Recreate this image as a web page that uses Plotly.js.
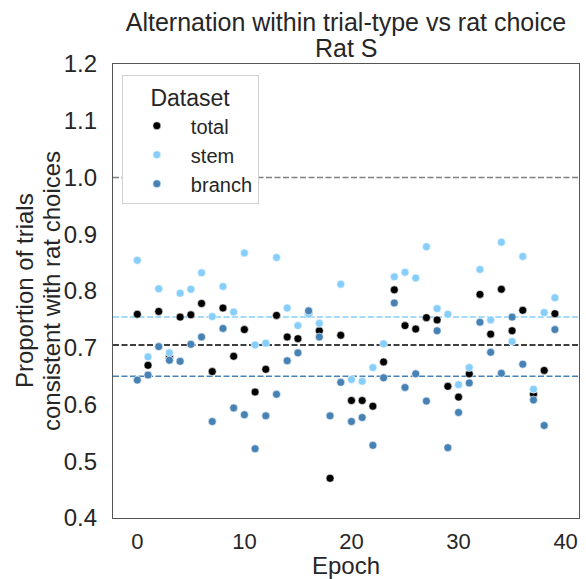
<!DOCTYPE html>
<html>
<head>
<meta charset="utf-8">
<script src="https://cdn.plot.ly/plotly-3.0.1.min.js"></script>
<style>html,body{margin:0;padding:0;background:#fff;}#chart{width:586px;height:579px;}</style>
</head>
<body>
<div id="chart"></div>
<script>
const epochs = [0,1,2,3,4,5,6,7,8,9,10,11,12,13,14,15,16,17,18,19,20,21,22,23,24,25,26,27,28,29,30,31,32,33,34,35,36,37,38,39];
const totalVals = [0.759,0.669,0.764,0.684,0.754,0.758,0.778,0.658,0.770,0.685,0.732,0.622,0.662,0.757,0.719,0.716,0.760,0.730,0.470,0.722,0.607,0.607,0.597,0.675,0.802,0.739,0.733,0.753,0.749,0.632,0.613,0.654,0.794,0.724,0.803,0.730,0.766,0.618,0.660,0.760];
const stemVals = [0.854,0.684,0.804,0.691,0.796,0.803,0.832,0.755,0.808,0.763,0.867,0.705,0.708,0.859,0.770,0.739,0.759,0.743,null,0.812,0.644,0.641,0.665,0.707,0.825,0.833,0.823,0.878,0.769,0.759,0.635,0.665,0.838,0.749,0.886,0.711,0.861,0.627,0.762,0.788];
const branchVals = [0.643,0.652,0.702,0.678,0.676,0.706,0.719,0.570,0.734,0.594,0.582,0.522,0.580,0.618,0.677,0.691,0.765,0.719,0.580,0.639,0.570,0.577,0.528,0.647,0.779,0.630,0.654,0.606,0.730,0.524,0.586,0.638,0.745,0.692,0.655,0.754,0.671,0.608,0.563,0.732];
const seriesNames = ["total","stem","branch"];
const seriesColors = ["black","#87CEFA","#4682B4"];
const refLines = [1.0, 0.705, 0.754, 0.650];
const refColors = ["gray","black","#87CEFA","#4682B4"];
const yTicks = [0.4,0.5,0.6,0.7,0.8,0.9,1.0,1.1,1.2];
const xTicks = [0,10,20,30,40];
const titleLine1 = "Alternation within trial-type vs rat choice";
const titleLine2 = "Rat S";
const yTitleLine1 = "Proportion of trials";
const yTitleLine2 = "consistent with rat choices";

const seriesVals = [totalVals, stemVals, branchVals];
const traces = seriesNames.map((n,i)=>({
  type:'scatter', mode:'markers', name:n, x:epochs, y:seriesVals[i],
  legendgroup:n,
  marker:{color:seriesColors[i], size:8, line:{color:'white', width:0.6}},
  cliponaxis:false
}));

const shapes = refLines.map((v,i)=>({
  type:'line', xref:'paper', x0:0, x1:1, yref:'y', y0:v, y1:v,
  line:{color:refColors[i], width:1.5, dash:'6px,2.5px'}, layer:'below'
}));

const fontFam = '"Liberation Sans", Arial, sans-serif';
const txt = '#262626';
const plotW = 586-113-6.5, plotH = 579-63.6-60.7;
const layout = {
  width:586, height:579,
  margin:{l:113, r:6.5, t:63.6, b:60.7},
  paper_bgcolor:'white', plot_bgcolor:'white',
  font:{family:fontFam, color:txt},
  title:{text:titleLine1, font:{size:25, color:txt}, x:0.5, xref:'paper', xanchor:'center', y:1-22/579, yref:'container', yanchor:'middle'},
  annotations:[
    {text:titleLine2, xref:'paper', yref:'paper', x:0.5, y:1+(63.6-48)/plotH, xanchor:'center', yanchor:'middle', showarrow:false, font:{size:25, color:txt}},
    {text:yTitleLine1, xref:'paper', yref:'paper', x:(24-113)/plotW, y:0.5, xanchor:'center', yanchor:'middle', textangle:-90, showarrow:false, font:{size:24, color:txt}},
    {text:yTitleLine2, xref:'paper', yref:'paper', x:(51-113)/plotW, y:0.5, xanchor:'center', yanchor:'middle', textangle:-90, showarrow:false, font:{size:24, color:txt}}
  ],
  xaxis:{range:[-2.27,41.25], tickvals:xTicks, ticktext:xTicks.map(String), showgrid:false, zeroline:false,
    showline:true, mirror:true, linecolor:'#555', linewidth:1.2,
    ticks:'outside', ticklen:3, tickcolor:'rgba(0,0,0,0)', tickfont:{size:22, color:txt},
    title:{text:'Epoch', font:{size:24, color:txt}, standoff:0}},
  yaxis:{range:[0.4,1.2], tickvals:yTicks, ticktext:yTicks.map(v=>v.toFixed(1)), showgrid:false, zeroline:false,
    showline:true, mirror:true, linecolor:'#555', linewidth:1.2,
    ticks:'outside', ticklen:10, tickcolor:'rgba(0,0,0,0)', tickfont:{size:24, color:txt}},
  shapes:shapes,
  showlegend:true,
  legend:{x:0.019, y:0.975, xanchor:'left', yanchor:'top', bgcolor:'white', bordercolor:'#d0d0d0', borderwidth:1,
    title:{text:'Dataset', font:{size:23, color:txt}, side:'top center'},
    font:{size:20, color:txt}, itemwidth:58, traceorder:'grouped', tracegroupgap:0}
};
Plotly.newPlot('chart', traces, layout, {displayModeBar:false, staticPlot:true});
</script>
</body>
</html>
